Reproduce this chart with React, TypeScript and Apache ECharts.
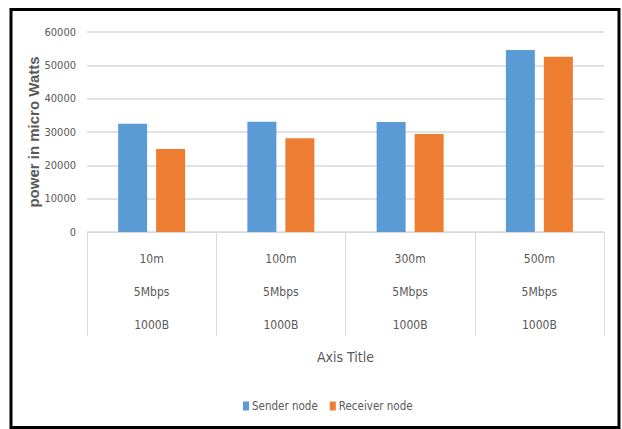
import React, { useEffect, useRef } from "react";
import * as echarts from "echarts";

const categories = ["10m\n5Mbps\n1000B", "100m\n5Mbps\n1000B", "300m\n5Mbps\n1000B", "500m\n5Mbps\n1000B"];
const senderValues = [32500, 33100, 33000, 54600];
const receiverValues = [24900, 28100, 29400, 52600];
const seriesNames = ["Sender node", "Receiver node"];

const NARROW = "'Liberation Sans Narrow', 'DejaVu Sans Condensed', 'Liberation Sans', sans-serif";
const GREY = "#595959";

export default function App() {
  const ref = useRef<HTMLDivElement>(null);
  useEffect(() => {
    if (!ref.current) return;
    const chart = echarts.init(ref.current, null, { renderer: "svg" });
    chart.setOption({
      animation: false,
      backgroundColor: "#ffffff",
      graphic: [
        {
          type: "rect",
          z: -10,
          shape: { x: 11, y: 9.5, width: 608, height: 418 },
          style: { fill: "#ffffff", stroke: "#000000", lineWidth: 3 },
          silent: true,
        },
      ],
      grid: { left: 87, right: 18, top: 32, bottom: 197, containLabel: false },
      legend: {
        left: 238,
        top: 395,
        icon: "rect",
        itemWidth: 6,
        itemHeight: 9,
        itemGap: 12,
        textStyle: { color: GREY, fontFamily: NARROW, fontSize: 11.5, padding: [0, 0, 0, -2] },
        data: seriesNames,
      },
      xAxis: {
        type: "category",
        data: categories,
        boundaryGap: true,
        name: "Axis Title",
        nameLocation: "middle",
        nameGap: 118,
        nameMoveOverlap: false,
        nameTextStyle: { color: GREY, fontFamily: NARROW, fontSize: 14 },
        axisLine: { show: true, lineStyle: { color: "#d9d9d9", width: 1 } },
        axisTick: { show: true, length: 104, lineStyle: { color: "#d9d9d9", width: 1 } },
        axisLabel: {
          color: GREY,
          fontFamily: NARROW,
          fontSize: 12,
          lineHeight: 33,
          margin: 10,
        },
      },
      yAxis: {
        type: "value",
        min: 0,
        max: 60000,
        interval: 10000,
        name: "power in micro Watts",
        nameLocation: "middle",
        nameRotate: 90,
        nameGap: 46,
        nameMoveOverlap: false,
        nameTextStyle: { color: GREY, fontFamily: "'Liberation Sans', Arial, sans-serif", fontSize: 15, fontWeight: 600 },
        axisLine: { show: false },
        axisTick: { show: false },
        axisLabel: {
          color: GREY,
          fontFamily: NARROW,
          fontSize: 11,
          margin: 11,
          formatter: (v: number) => String(v),
        },
        splitLine: { lineStyle: { color: "#d9d9d9", width: 1.5 } },
      },
      series: [
        {
          name: seriesNames[0],
          type: "bar",
          data: senderValues,
          barWidth: 29,
          barGap: "31%",
          itemStyle: { color: "#5B9BD5" },
        },
        {
          name: seriesNames[1],
          type: "bar",
          data: receiverValues,
          barWidth: 29,
          barGap: "31%",
          itemStyle: { color: "#ED7D31" },
        },
      ],
    });
    return () => chart.dispose();
  }, []);
  return (
    <div
      ref={ref}
      style={{ position: "fixed", left: 0, top: 0, width: 622, height: 429 }}
    />
  );
}
